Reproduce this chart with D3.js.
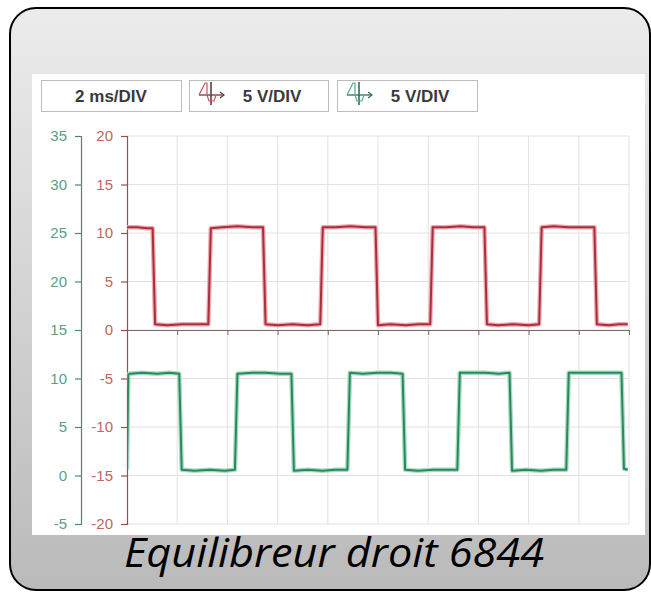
<!DOCTYPE html>
<html><head><meta charset="utf-8">
<script src="https://cdn.jsdelivr.net/npm/d3@7"></script>
<style>html,body{margin:0;padding:0;background:#fff;overflow:hidden}</style>
</head><body>
<svg id="c" width="651" height="592"></svg>
<script>
// ---- data ----
const timeTicks = [0,2,4,6,8,10,12,14,16,18,20];           // ms
const redTicks = [-20,-15,-10,-5,0,5,10,15,20];            // V, channel 1 (inner axis)
const greenTicks = [-5,0,5,10,15,20,25,30,35];             // V, channel 2 (outer axis)
const legendLabels = ["2 ms/DIV","5 V/DIV","5 V/DIV"];
const titleText = "Equilibreur droit 6844";

const redTime = [0,0.4,0.8,1.02, 1.12,1.6,2.2,2.8,3.24, 3.34,3.8,4.4,5.0,5.42, 5.52,6.0,6.6,7.2,7.70,
  7.80,8.3,8.9,9.5,9.90, 10.0,10.5,11.1,11.6,12.08, 12.18,12.7,13.3,13.8,14.24, 14.34,14.8,15.4,16.0,16.42,
  16.52,17.0,17.6,18.2,18.62, 18.72,19.2,19.6,19.95];
const redVolt = [10.6,10.6,10.5,10.5, 0.6,0.5,0.6,0.6,0.6, 10.5,10.6,10.7,10.6,10.6, 0.6,0.5,0.6,0.5,0.6,
  10.6,10.6,10.7,10.6,10.6, 0.5,0.6,0.5,0.6,0.6, 10.6,10.6,10.7,10.6,10.6, 0.6,0.5,0.6,0.5,0.6,
  10.6,10.7,10.6,10.6,10.6, 0.6,0.5,0.6,0.6];

const greenTime = [0,0.05, 0.12,0.6,1.2,1.7,2.08, 2.18,2.7,3.3,3.9,4.30, 4.40,5.0,5.5,6.1,6.55,
  6.65,7.2,7.8,8.3,8.78, 8.88,9.4,10.0,10.5,10.98, 11.08,11.6,12.2,12.7,13.16, 13.26,13.8,14.3,14.8,15.24,
  15.34,15.9,16.5,17.0,17.50, 17.60,18.1,18.7,19.2,19.70, 19.80,19.95];
const greenVolt = [0.6,10.4, 10.5,10.6,10.5,10.6,10.5, 0.6,0.5,0.6,0.5,0.6, 10.5,10.6,10.6,10.5,10.5,
  0.5,0.6,0.5,0.6,0.6, 10.6,10.5,10.6,10.6,10.5, 0.6,0.5,0.6,0.6,0.6, 10.6,10.6,10.6,10.5,10.6,
  0.5,0.6,0.5,0.6,0.6, 10.6,10.6,10.6,10.6,10.6, 0.7,0.6];

// ---- layout ----
const svg = d3.select("#c");
const plotL = 127, plotR = 629, plotT = 136, plotB = 524;

const defs = svg.append("defs");
const grad = defs.append("linearGradient").attr("id","bg").attr("x1",0).attr("y1",0).attr("x2",0).attr("y2",1);
grad.append("stop").attr("offset","0%").attr("stop-color","#ececec");
grad.append("stop").attr("offset","100%").attr("stop-color","#bababa");
defs.append("clipPath").attr("id","clip").append("rect")
  .attr("x",plotL).attr("y",plotT-4).attr("width",plotR-plotL).attr("height",plotB-plotT+8);

// outer rounded frame
svg.append("rect").attr("x",10).attr("y",8).attr("width",640).attr("height",582)
  .attr("rx",26).attr("ry",26).attr("fill","url(#bg)").attr("stroke","#000").attr("stroke-width",2);

// white panel
svg.append("rect").attr("x",32).attr("y",74).attr("width",613).attr("height",461).attr("fill","#fff");

// scales
const x = d3.scaleLinear().domain([0,20]).range([plotL,plotR]);
const yR = d3.scaleLinear().domain([-20,20]).range([plotB,plotT]);
const yG = d3.scaleLinear().domain([-5,35]).range([plotB,plotT]);

// grid
const grid = svg.append("g");
grid.selectAll("line.h").data(redTicks).join("line")
  .attr("x1",plotL).attr("x2",plotR).attr("y1",d=>yR(d)).attr("y2",d=>yR(d))
  .attr("stroke","#e2e2e2").attr("stroke-width",1);
grid.selectAll("line.v").data(timeTicks.slice(1)).join("line")
  .attr("x1",d=>x(d)).attr("x2",d=>x(d)).attr("y1",plotT).attr("y2",plotB)
  .attr("stroke","#e2e2e2").attr("stroke-width",1);

// zero (time) axis
const xAxis = svg.append("g").attr("transform",`translate(0,${yR(0)})`)
  .call(d3.axisBottom(x).tickValues(timeTicks).tickSize(5).tickSizeOuter(0).tickFormat(""));
xAxis.selectAll("path,line").attr("stroke","#806868");

function styleAxis(g, lineCol, textCol){
  g.selectAll("path,line").attr("stroke",lineCol).attr("stroke-width",1.2);
  g.selectAll("text").attr("fill",textCol).attr("font-family","Liberation Sans, Arial, sans-serif").attr("font-size",15);
}
const fmt = d => String(d);
const gAxis = svg.append("g").attr("transform",`translate(81,0)`)
  .call(d3.axisLeft(yG).tickValues(greenTicks).tickSize(6).tickPadding(8).tickFormat(fmt));
styleAxis(gAxis,"#3f9070","#5a9e84");
const rAxis = svg.append("g").attr("transform",`translate(${plotL},0)`)
  .call(d3.axisLeft(yR).tickValues(redTicks).tickSize(6).tickPadding(8).tickFormat(fmt));
styleAxis(rAxis,"#a04a4a","#c06464");

// signals
const redData = redTime.map((t,i)=>[t,redVolt[i]]);
const greenData = greenTime.map((t,i)=>[t,greenVolt[i]]);
const lineR = d3.line().x(d=>x(d[0])).y(d=>yR(d[1]));
const lineG = d3.line().x(d=>x(d[0])).y(d=>yG(d[1]));
const sig = svg.append("g").attr("clip-path","url(#clip)");
sig.append("path").attr("d",lineR(redData)).attr("fill","none").attr("stroke","#f2a8b0").attr("stroke-width",4.5).attr("stroke-linejoin","round");
sig.append("path").attr("d",lineR(redData)).attr("fill","none").attr("stroke","#a8303d").attr("stroke-width",2).attr("stroke-linejoin","round");
sig.append("path").attr("d",lineG(greenData)).attr("fill","none").attr("stroke","#a6dcc2").attr("stroke-width",4.5).attr("stroke-linejoin","round");
sig.append("path").attr("d",lineG(greenData)).attr("fill","none").attr("stroke","#2a8a5c").attr("stroke-width",2).attr("stroke-linejoin","round");

// legend boxes
const boxes = [{x:41,w:140},{x:189,w:139},{x:337,w:140}];
const legend = svg.append("g");
boxes.forEach((b,i)=>{
  legend.append("rect").attr("x",b.x+0.5).attr("y",80.5).attr("width",b.w).attr("height",31)
    .attr("fill","#fff").attr("stroke","#bdbdbd").attr("stroke-width",1);
  legend.append("text").attr("x", i===0 ? b.x+b.w/2 : b.x+83).attr("y",102)
    .attr("text-anchor","middle").attr("font-family","Liberation Sans, Arial, sans-serif")
    .attr("font-size",17).attr("font-weight","bold").attr("fill","#3a3a3a").text(legendLabels[i]);
  if(i>0){
    const ix = b.x+9, col = i===1 ? "#c8505e" : "#4fae86", dark = i===1 ? "#6a3a3a" : "#3a6a55";
    const ic = legend.append("g").attr("transform",`translate(${ix},81)`);
    ic.append("line").attr("x1",13).attr("x2",13).attr("y1",1).attr("y2",24).attr("stroke",dark).attr("stroke-width",1.6);
    ic.append("line").attr("x1",1).attr("x2",25).attr("y1",14).attr("y2",14).attr("stroke",dark).attr("stroke-width",1.3);
    ic.append("path").attr("d","M22,11 L26,14 L22,17").attr("fill","none").attr("stroke",dark).attr("stroke-width",1.2);
    ic.append("path").attr("d","M1,14 L7,2 L9,2 L9,14 L11,20 L16,20 L18,14")
      .attr("fill","none").attr("stroke",col).attr("stroke-width",1.2);
  }
});

// title
svg.append("text").attr("x",334).attr("y",567).attr("text-anchor","middle")
  .attr("font-family","Open Sans, Noto Sans, sans-serif").attr("font-style","italic")
  .attr("font-size",40).attr("fill","#000")
  .attr("textLength",420).attr("lengthAdjust","spacingAndGlyphs").text(titleText);
</script>
</body></html>
